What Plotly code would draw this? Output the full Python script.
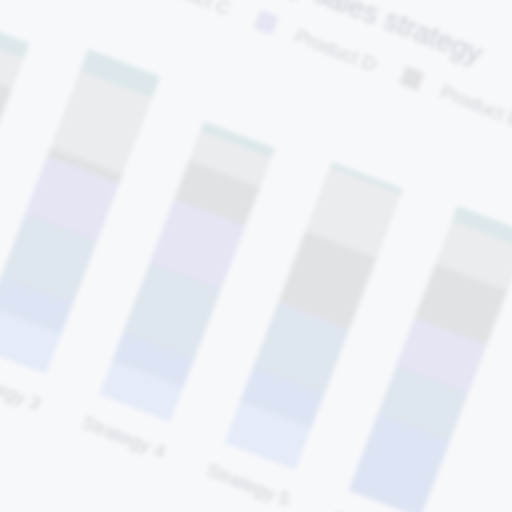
import plotly.graph_objects as go

# ---- data ----
strategies = ["Strategy 2", "Strategy 3", "Strategy 4", "Strategy 5", "Strategy 6"]
products = ["Product A", "Product B", "Product C", "Product D", "Product E", "Product F", "Product G"]
product_a = [15.0, 12.8, 11.1, 13.5, 0.0]
product_b = [12.3, 10.1, 9.2, 11.2, 24.8]
product_c = [23.5, 20.1, 22.4, 20.1, 15.4]
product_d = [16.5, 18.2, 20.4, 0.5, 15.5]
product_e = [9.0, 3.2, 12.4, 22.8, 17.3]
product_f = [9.9, 24.4, 9.4, 20.6, 13.9]
product_g = [4.8, 7.0, 3.0, 1.8, 4.8]
series = [product_a, product_b, product_c, product_d, product_e, product_f, product_g]
colors = ["#e5ebf8", "#dde4f3", "#dee6ee", "#e5e5f4", "#e1e2e4", "#ebecee", "#dce8eb"]
title_text = "Product mix by sales strategy"

BG = "#f7f8fa"
TXT = "#cdd1d8"

W, H = 990, 360
L, T, B = 85.6, 91.7, 60
plot_w = 10.5 * 83.56
R = W - L - plot_w

fig = go.Figure()
for name, vals, col in zip(products, series, colors):
    fig.add_trace(go.Bar(name=name, x=strategies, y=vals, marker=dict(color=col, line=dict(width=0))))

fig.update_layout(
    barmode="stack",
    bargap=0.43,
    width=W, height=H,
    margin=dict(l=L, r=R, t=T, b=B, pad=0),
    paper_bgcolor=BG, plot_bgcolor=BG,
    font=dict(family="Liberation Sans, Arial, sans-serif", color=TXT, size=12),
    title=dict(text=title_text, font=dict(size=18, color="#c9cdd5"),
               xref="container", x=543 / W, xanchor="right",
               yref="container", y=1 - 16 / H, yanchor="middle"),
    legend=dict(orientation="h", traceorder="normal", xanchor="left", x=(97.5 - L) / plot_w,
                yanchor="top", y=1 + (T - 30.5) / (H - T - B),
                entrywidth=52.5, entrywidthmode="pixels",
                font=dict(size=12, color=TXT), bgcolor="rgba(0,0,0,0)"),
    showlegend=True,
)
fig.update_xaxes(range=[-2.0, 8.5], showgrid=False, zeroline=False, showline=False,
                 ticks="outside", ticklen=8, tickcolor=BG, tickfont=dict(size=12, color=TXT))
fig.update_yaxes(range=[0, 100], showgrid=False, zeroline=False, showline=False,
                 tickfont=dict(size=12, color=TXT))

post = """
var gd = document.getElementById('{plot_id}');
document.documentElement.style.background = '%s';
document.body.style.margin = '0';
document.body.style.background = '%s';
document.body.style.overflow = 'hidden';
gd.style.position = 'fixed';
gd.style.left = '0px';
gd.style.top = '0px';
gd.style.transformOrigin = '0 0';
gd.style.transform = 'translate(-320.75px, -280.59px) rotate(21deg) scale(1.6)';
gd.style.filter = 'blur(1.5px)';
""" % (BG, BG)

fig.write_html("out.html", config={"displayModeBar": False}, post_script=post)
